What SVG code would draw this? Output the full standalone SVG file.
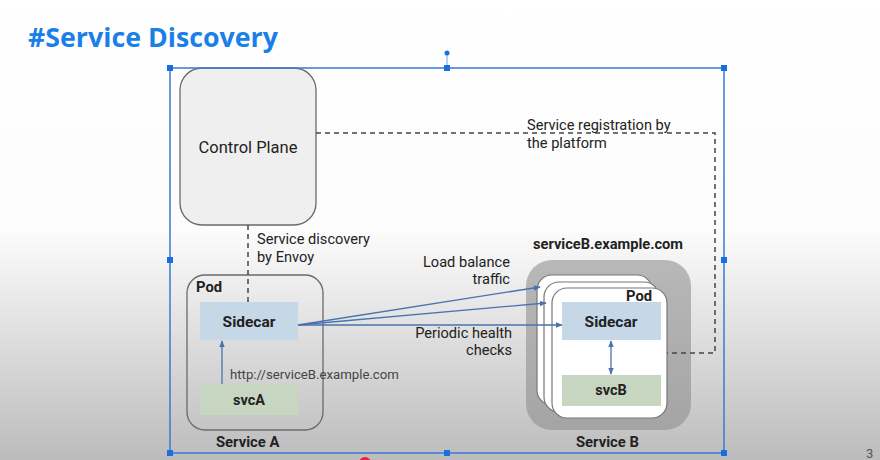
<svg xmlns="http://www.w3.org/2000/svg" width="880" height="460" viewBox="0 0 880 460">
<defs>
<linearGradient id="bg" x1="0" y1="0" x2="0" y2="460" gradientUnits="userSpaceOnUse">
<stop offset="0" stop-color="#ffffff"/>
<stop offset="0.5" stop-color="#fcfcfc"/>
<stop offset="1" stop-color="#bcbcbc"/>
</linearGradient>
<linearGradient id="svcb" x1="0" y1="0" x2="0" y2="1">
<stop offset="0" stop-color="#b8b8b8"/>
<stop offset="1" stop-color="#a4a4a4"/>
</linearGradient>
<marker id="ah" viewBox="0 0 10 10" refX="9" refY="5" markerWidth="7" markerHeight="7" orient="auto-start-reverse" markerUnits="userSpaceOnUse">
<path d="M0,1 L10,5 L0,9 z" fill="#4a72b0"/>
</marker>
</defs>
<style>
text{font-family:Roboto,"Liberation Sans",Arial,sans-serif;fill:#222}
.lbl{font-size:14.6px}
.bl{font-size:14.8px;font-weight:bold}
.box{fill:none;stroke:#6a6a6a;stroke-width:1.3}
.card{fill:#ffffff;stroke:#777;stroke-width:1.2}
.side{fill:#c6d7e8}
.svc{fill:#c7d6c1}
.dash{fill:none;stroke:#444;stroke-width:1.5;stroke-dasharray:5,4}
.arr{fill:none;stroke:#4a72b0;stroke-width:1.3}
.sel{fill:none;stroke:#3b78d8;stroke-width:1.5}
.hd{fill:#1a6fe0}
</style>
<rect x="0" y="0" width="880" height="460" fill="url(#bg)"/>
<text x="28" y="47" font-size="27" font-weight="bold" style="fill:#1a80e8;font-family:'Open Sans','Liberation Sans',sans-serif" textLength="250" lengthAdjust="spacingAndGlyphs">#Service Discovery</text>

<g id="control-plane">
<rect x="180" y="68" width="136" height="157" rx="22" fill="#efefef" stroke="#6a6a6a" stroke-width="1.3"/>
<text x="248" y="153" font-size="16.5" text-anchor="middle">Control Plane</text>
</g>

<g id="service-a">
<rect class="box" x="187" y="275" width="136" height="155" rx="18"/>
<text class="bl" x="196" y="292">Pod</text>
<text class="bl" x="216" y="447">Service A</text>
</g>
<g id="sidecar-a">
<rect class="side" x="200" y="302" width="98" height="38"/>
<text x="249" y="327" font-size="15.5" font-weight="bold" text-anchor="middle">Sidecar</text>
</g>
<g id="svcA">
<rect class="svc" x="200" y="384" width="98" height="31"/>
<text x="249" y="405" font-size="14.5" font-weight="bold" text-anchor="middle">svcA</text>
</g>

<g id="service-b">
<rect x="526" y="260" width="165" height="170" rx="26" fill="url(#svcb)"/>
<rect class="card" x="537" y="275" width="115" height="130" rx="15"/>
<rect class="card" x="544" y="282" width="115" height="130" rx="15"/>
<rect class="card" x="552" y="288" width="115" height="130" rx="15"/>
<text class="bl" x="626" y="301">Pod</text>
<text class="bl" x="533" y="249" textLength="150" lengthAdjust="spacingAndGlyphs">serviceB.example.com</text>
<text class="bl" x="576" y="447">Service B</text>
</g>
<g id="sidecar-b">
<rect class="side" x="562" y="302" width="99" height="38"/>
<text x="611" y="327" font-size="15.5" font-weight="bold" text-anchor="middle">Sidecar</text>
</g>
<g id="svcB">
<rect class="svc" x="562" y="375" width="99" height="31"/>
<text x="611" y="395" font-size="14.5" font-weight="bold" text-anchor="middle">svcB</text>
</g>

<g id="connectors">
<path class="dash" d="M316,133 H715 V353 H667"/>
<path class="dash" d="M248,225 V302"/>
<path class="arr" d="M222,384 V341" marker-end="url(#ah)"/>
<path class="arr" d="M298,325 L540,287" marker-end="url(#ah)"/>
<path class="arr" d="M298,325 L546,303" marker-end="url(#ah)"/>
<path class="arr" d="M298,325 L562,325" marker-end="url(#ah)"/>
<path class="arr" d="M611,341 V374" marker-start="url(#ah)" marker-end="url(#ah)"/>
</g>

<g id="labels">
<text class="lbl" x="527" y="130">Service registration by</text>
<text class="lbl" x="527" y="148">the platform</text>
<text class="lbl" x="257" y="244">Service discovery</text>
<text class="lbl" x="257" y="262">by Envoy</text>
<text x="230" y="379" font-size="13.2" style="fill:#444">http://serviceB.example.com</text>
<text class="lbl" x="510" y="267" text-anchor="end">Load balance</text>
<text class="lbl" x="510" y="284" text-anchor="end">traffic</text>
<text class="lbl" x="512" y="338" text-anchor="end">Periodic health</text>
<text class="lbl" x="512" y="355" text-anchor="end">checks</text>
</g>

<g id="selection">
<rect class="sel" x="170" y="68" width="554" height="385"/>
<line x1="447" y1="53" x2="447" y2="68" stroke="#9cc3f0" stroke-width="1.5"/>
<circle class="hd" cx="447" cy="53" r="2.5"/>
<rect class="hd" x="167" y="65" width="6" height="6"/>
<rect class="hd" x="444" y="65" width="6" height="6"/>
<rect class="hd" x="721" y="65" width="6" height="6"/>
<rect class="hd" x="167" y="257" width="6" height="6"/>
<rect class="hd" x="721" y="257" width="6" height="6"/>
<rect class="hd" x="167" y="450" width="6" height="6"/>
<rect class="hd" x="444" y="450" width="6" height="6"/>
<rect class="hd" x="721" y="450" width="6" height="6"/>
</g>
<circle cx="365" cy="463" r="6" fill="#e8203a"/>
<text x="866" y="458" font-size="13" style="fill:#555">3</text>
</svg>
